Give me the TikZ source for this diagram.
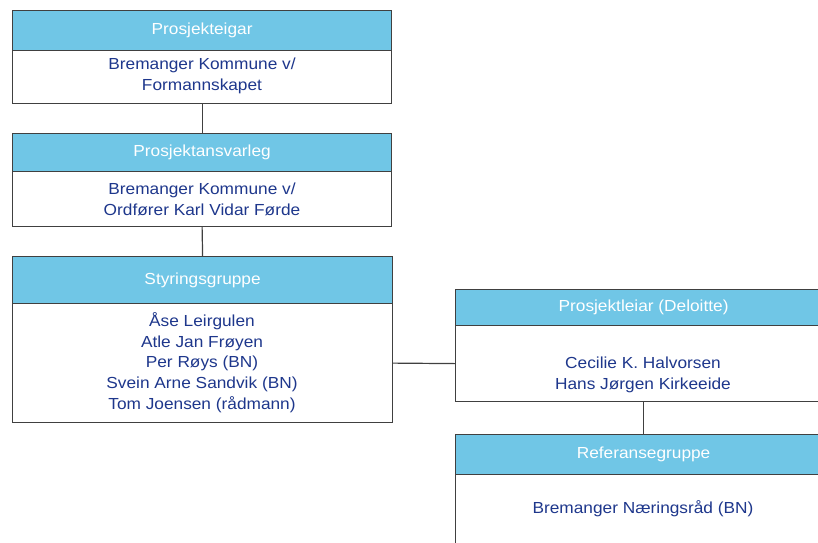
\documentclass[tikz,border=0pt]{standalone}
\usepackage{fontspec}
\setmainfont{Liberation Sans}[FakeStretch=1.08]
\definecolor{hdrfill}{RGB}{112,198,230}
\definecolor{navy}{RGB}{30,55,140}
\definecolor{edge}{RGB}{64,64,64}
\tikzset{
  boxbase/.style={draw=edge, line width=1.2pt, rectangle, anchor=north west, inner sep=0pt},
  hdr/.style={boxbase, fill=hdrfill, text=white, font=\fontsize{16}{20.7}\selectfont},
  bodybox/.style={boxbase, fill=white},
  txt/.style={text=navy, align=center, inner sep=0pt, font=\fontsize{16}{20.7}\selectfont},
  link/.style={draw=edge, line width=1.2pt}
}
\begin{document}
\begin{tikzpicture}[x=1pt,y=-1pt]
\useasboundingbox (0,0) rectangle (818,542);
\clip (0,0) rectangle (818,542);
% Box 1
\node[hdr, minimum width=379pt, minimum height=40pt] (h1) at (12,10) {Prosjekteigar};
\node[bodybox, minimum width=379pt, minimum height=53pt] (b1) at (12,50) {};
\node[txt] (t1) at (202,76) {Bremanger Kommune v/\\Formannskapet};
% Box 2
\node[hdr, minimum width=379pt, minimum height=38pt] (h2) at (12,133) {Prosjektansvarleg};
\node[bodybox, minimum width=379pt, minimum height=55pt] (b2) at (12,171) {};
\node[txt] (t2) at (202,199.5) {Bremanger Kommune v/\\Ordfører Karl Vidar Førde};
% Box 3
\node[hdr, minimum width=380pt, minimum height=47pt] (h3) at (12,256) {Styringsgruppe};
\node[bodybox, minimum width=380pt, minimum height=119pt] (b3) at (12,303) {};
\node[txt] (t3) at (202,362.5) {Åse Leirgulen\\Atle Jan Frøyen\\Per Røys (BN)\\Svein Arne Sandvik (BN)\\Tom Joensen (rådmann)};
% Box 4
\node[hdr, minimum width=376pt, minimum height=36pt] (h4) at (455,289) {Prosjektleiar (Deloitte)};
\node[bodybox, minimum width=376pt, minimum height=76pt] (b4) at (455,325) {};
\node[txt] (t4) at (643,375) {Cecilie K. Halvorsen\\Hans Jørgen Kirkeeide};
% Box 5
\node[hdr, minimum width=376pt, minimum height=40pt] (h5) at (455,434) {Referansegruppe};
\node[bodybox, minimum width=376pt, minimum height=120pt] (b5) at (455,474) {};
\node[txt] (t5) at (643,509) {Bremanger Næringsråd (BN)};
% connectors
\draw[link] (b1.south) -- (h2.north);
\draw[link] (b2.south) -- (h3.north);
\draw[link] (b3.east) -- (b4.west);
\draw[link] (b4.south) -- (h5.north);
\end{tikzpicture}
\end{document}
